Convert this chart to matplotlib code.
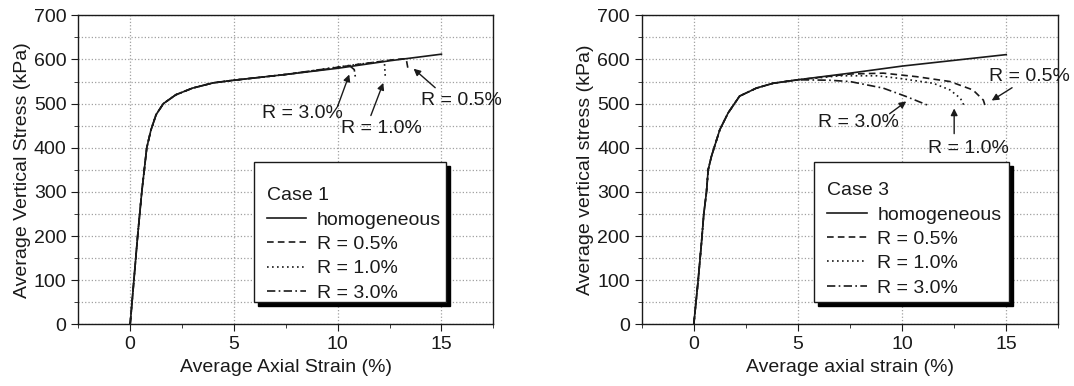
import matplotlib
matplotlib.use("Agg")
import matplotlib.pyplot as plt
from matplotlib.patches import Rectangle
from matplotlib.ticker import MultipleLocator

plt.rcParams['font.family'] = ['Liberation Sans', 'DejaVu Sans']
plt.rcParams['font.size'] = 14

# Case 1 (left panel) - common loading branch, then the tails of each case
c1_base_x = [0, 0.18, 0.36, 0.56, 0.68, 0.8, 1.0, 1.25, 1.6, 2.2, 3, 4, 5]
c1_base_y = [0, 100, 200, 300, 350, 400, 440, 475, 500, 520, 535, 547, 553]
c1_homo_x = [7.5, 10, 12.5, 15]
c1_homo_y = [566, 580, 597, 612]
c1_r05_x = [7.5, 9, 10, 11, 12, 12.6, 13.3, 13.4]
c1_r05_y = [566, 575, 582, 589, 595, 599, 602, 576]
c1_r10_x = [7.5, 9, 10, 11, 12, 12.25, 12.3]
c1_r10_y = [566, 576, 583, 589, 595, 596, 557]
c1_r30_x = [7.5, 9, 10, 10.6, 10.8, 10.85]
c1_r30_y = [566, 576, 582, 585, 577, 561]

# Case 3 (right panel)
c3_base_x = [0, 0.21, 0.37, 0.48, 0.61, 0.69, 0.85, 1.25, 1.65, 2.2, 3.0, 3.8, 5]
c3_base_y = [0, 100, 185, 250, 300, 350, 381, 441, 479, 517, 535, 546, 554]
c3_homo_x = [7.5, 10, 12.5, 15]
c3_homo_y = [569, 585, 598, 611]
c3_r05_x = [7.5, 9.1, 10.7, 12.3, 13.4, 13.9, 14.0]
c3_r05_y = [567, 569, 561, 550, 531, 508, 493]
c3_r10_x = [7.0, 8.8, 9.9, 11.5, 12.3, 12.8, 12.96]
c3_r10_y = [563, 563, 557, 546, 531, 512, 497]
c3_r30_x = [6.5, 7.5, 9.1, 10.2, 11.2, 11.25]
c3_r30_y = [553, 550, 535, 516, 497, 494]

labels = ['homogeneous', 'R = 0.5%', 'R = 1.0%', 'R = 3.0%']
styles = ['-', (0, (4, 2.5)), (0, (1, 2)), (0, (5, 2, 1, 2))]

# annotation: text, text pos, arrow start, arrow tip
c1_notes = [('R = 3.0%', (8.3, 477), (10.0, 494), (10.56, 566)),
            ('R = 1.0%', (12.1, 443), (11.6, 473), (12.2, 547)),
            ('R = 0.5%', (15.95, 507), (14.7, 536), (13.66, 579))]
c3_notes = [('R = 3.0%', (7.9, 458), (9.4, 477), (10.2, 505)),
            ('R = 1.0%', (13.2, 398), (12.5, 432), (12.5, 489)),
            ('R = 0.5%', (16.1, 562), (15.28, 536), (14.3, 507))]

ink = '#1a1a1a'

fig = plt.figure(figsize=(10.74, 3.86), dpi=100)
ax1 = fig.add_axes([0.0729, 0.1598, 0.3864, 0.8005])
ax2 = fig.add_axes([0.5975, 0.1598, 0.3879, 0.8005])

panels = [
    (ax1, (c1_base_x, c1_base_y),
     [(c1_homo_x, c1_homo_y), (c1_r05_x, c1_r05_y), (c1_r10_x, c1_r10_y), (c1_r30_x, c1_r30_y)],
     'Case 1', 'Average Axial Strain (%)', 'Average Vertical Stress (kPa)', c1_notes,
     (0.4227, 0.073, 0.887, 0.526), (0.454, 0.443)),
    (ax2, (c3_base_x, c3_base_y),
     [(c3_homo_x, c3_homo_y), (c3_r05_x, c3_r05_y), (c3_r10_x, c3_r10_y), (c3_r30_x, c3_r30_y)],
     'Case 3', 'Average axial strain (%)', 'Average vertical stress (kPa)', c3_notes,
     (0.4146, 0.073, 0.8814, 0.524), (0.4457, 0.4595)),
]

for ax, base, series, case, xlab, ylab, notes, box, anchor in panels:
    bx, by = base
    # every curve shares the loading branch, then goes on with its own tail
    for (xs, ys), lab, ls in zip(series, labels, styles):
        ax.plot(bx + xs, by + ys, color=ink, linestyle=ls, linewidth=1.2, label=lab)
    ax.set_xlim(-2.5, 17.5)
    ax.set_ylim(0, 700)
    ax.xaxis.set_major_locator(MultipleLocator(5))
    ax.xaxis.set_minor_locator(MultipleLocator(2.5))
    ax.yaxis.set_major_locator(MultipleLocator(100))
    ax.yaxis.set_minor_locator(MultipleLocator(50))
    ax.grid(True, which='major', axis='x', linestyle=':', color='#a0a0a0', linewidth=0.9)
    ax.grid(True, which='both', axis='y', linestyle=':', color='#a0a0a0', linewidth=0.9)
    ax.set_axisbelow(True)
    ax.tick_params(which='major', direction='out', length=5, color=ink, labelcolor=ink, labelsize=14)
    ax.tick_params(which='minor', direction='out', length=3, color=ink)
    for s in ax.spines.values():
        s.set_color(ink)
        s.set_linewidth(1.0)
    ax.set_xlabel(xlab, color=ink, fontsize=14, labelpad=4)
    ax.set_ylabel(ylab, color=ink, fontsize=14, labelpad=2)

    for txt, tpos, start, tip in notes:
        ax.text(tpos[0], tpos[1], txt, ha='center', va='center', color=ink, fontsize=14)
        ax.annotate('', xy=tip, xytext=start,
                    arrowprops=dict(arrowstyle='-|>', color=ink, lw=1.0,
                                    mutation_scale=10, shrinkA=0, shrinkB=0))

    # legend frame with a solid black drop shadow
    x0, y0, x1, y1 = box
    ax.add_patch(Rectangle((x0 + 0.0096, y0 - 0.0129), x1 - x0, y1 - y0, transform=ax.transAxes,
                           facecolor='black', edgecolor='black', zorder=3))
    ax.add_patch(Rectangle((x0, y0), x1 - x0, y1 - y0, transform=ax.transAxes,
                           facecolor='white', edgecolor=ink, linewidth=1.0, zorder=3.5))
    leg = ax.legend(title=case, loc='upper left', bbox_to_anchor=anchor,
                    fontsize=14, title_fontsize=14, alignment='left', frameon=False,
                    handlelength=2.04, handletextpad=0.53, labelspacing=0.345,
                    borderpad=0, borderaxespad=0)
    leg.set_zorder(5)
    for t in leg.get_texts():
        t.set_color(ink)
    leg.get_title().set_color(ink)

plt.savefig('out.png', dpi=100)
plt.close(fig)
